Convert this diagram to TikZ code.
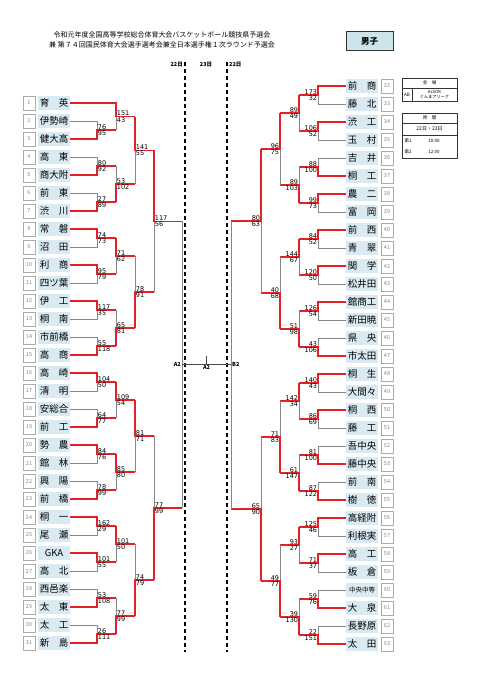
\documentclass[tikz,border=0pt]{standalone}
\usepackage{fontspec}
\setmainfont{Noto Sans CJK JP}
\newfontfamily\scorefont{DejaVu Sans}
\usepackage{tikz}
\usetikzlibrary{calc,positioning}
\definecolor{teamblue}{RGB}{218,234,243}
\definecolor{winred}{RGB}{228,32,40}
\definecolor{linegray}{RGB}{135,135,135}
\definecolor{titleblue}{RGB}{206,228,236}
\tikzset{
namebox/.style={fill=teamblue,minimum width=32pt,minimum height=14.5pt,inner sep=0pt,font=\fontsize{9.5}{10}\selectfont},
numbox/.style={draw=linegray!70,fill=white,minimum width=12pt,minimum height=14pt,inner sep=0pt,text=linegray,font=\fontsize{5.5}{6}\selectfont},
win/.style={draw=winred,line width=1.1pt},
lose/.style={draw=linegray,line width=0.7pt},
score/.style={inner sep=0.7pt,font=\scorefont\fontsize{6.5}{7}\selectfont},
scup/.style={above right,score},
scdown/.style={below right,score},
dayline/.style={line width=1.2pt,dash pattern=on 4pt off 3pt},
small/.style={font=\fontsize{5.5}{6}\selectfont\bfseries,inner sep=1pt},
info/.style={font=\fontsize{4.5}{5}\selectfont,inner sep=0.5pt}
}
% one game: top, bottom, name, column, next column, scores, winner (1 top / 2 bottom)
\newcommand\addgame[8]{
\coordinate (#3m) at ($(#1)!.5!(#2)$);
\coordinate (#3j) at (#3m -| #4);
\coordinate (#3) at (#3m -| #5);
\ifnum#8=1
\draw[lose] (#2) -| (#3j);
\draw[win] (#1) -| (#3j) -- (#3);
\else
\draw[lose] (#1) -| (#3j);
\draw[win] (#2) -| (#3j) -- (#3);
\fi
\node[scup] (#3s) at (#3j) {#6};
\node[scdown] (#3t) at (#3j) {#7};}

\begin{document}
\begin{tikzpicture}[x=1pt,y=-1pt]
\useasboundingbox (0,0) rectangle (481,680);
\node[font=\fontsize{7}{8}\selectfont,inner sep=0pt] (title1) at (162,35) {令和元年度全国高等学校総合体育大会バスケットボール競技県予選会};
\node[font=\fontsize{7}{8}\selectfont,inner sep=0pt] (title2) at (162,45) {兼 第７４回国民体育大会選手選考会兼全日本選手権１次ラウンド予選会};
\node[draw=black!80,fill=titleblue,minimum width=47pt,minimum height=19pt,font=\fontsize{8.5}{9}\selectfont\bfseries] (sex) at (369.5,41) {男子};

% columns
\coordinate (lr1) at (97,0);
\coordinate (lr2) at (116,0);
\coordinate (lr3) at (135,0);
\coordinate (lr4) at (154,0);
\coordinate (lfin) at (182,0);
\coordinate (rr1) at (318,0);
\coordinate (rr2) at (299,0);
\coordinate (rr3) at (280,0);
\coordinate (rr4) at (261,0);
\coordinate (rfin) at (231,0);

% days
\draw[dayline] (185,62) -- (185,652);
\draw[dayline] (227,62) -- (227,652);
\node[small,left] (day1) at (184,65) {22日};
\node[small] (day2) at (206,65) {23日};
\node[small,right] (day3) at (228,65) {22日};

% teams
\foreach \t [count=\i] in {育　英,伊勢崎,健大高,高　東,商大附,前　東,渋　川,常　磐,沼　田,利　商,四ツ葉,伊　工,桐　南,市前橋,高　商,高　崎,清　明,安総合,前　工,勢　農,館　林,興　陽,前　橋,桐　一,尾　瀬,GKA,高　北,西邑楽,太　東,太　工,新　島}{
\node[numbox] (ln\i) at (29,{85+18*\i}) {\i};
\node[namebox] (l\i) at (54,{85+18*\i}) {\t};}
\foreach \t [count=\i from 32] in {前　商,藤　北,渋　工,玉　村,吉　井,桐　工,農　二,富　岡,前　西,青　翠,関　学,松井田,館商工,新田暁,県　央,市太田,桐　生,大間々,桐　西,藤　工,吾中央,藤中央,前　南,樹　徳,高経附,利根実,高　工,板　倉,{\fontsize{6.5}{7}\selectfont 中央中等},大　泉,長野原,太　田}{
\node[numbox] (rn\i) at (387,{18*\i-490}) {\i};
\node[namebox] (r\i) at (362,{18*\i-490}) {\t};}

% left half
\addgame{l2.east}{l3.east}{a1}{lr1}{lr2}{76}{95}{2}
\addgame{l4.east}{l5.east}{a2}{lr1}{lr2}{80}{92}{2}
\addgame{l6.east}{l7.east}{a3}{lr1}{lr2}{27}{89}{2}
\addgame{l8.east}{l9.east}{a4}{lr1}{lr2}{74}{73}{1}
\addgame{l10.east}{l11.east}{a5}{lr1}{lr2}{95}{79}{1}
\addgame{l12.east}{l13.east}{a6}{lr1}{lr2}{117}{35}{1}
\addgame{l14.east}{l15.east}{a7}{lr1}{lr2}{55}{118}{2}
\addgame{l16.east}{l17.east}{a8}{lr1}{lr2}{104}{50}{1}
\addgame{l18.east}{l19.east}{a9}{lr1}{lr2}{64}{77}{2}
\addgame{l20.east}{l21.east}{a10}{lr1}{lr2}{84}{76}{1}
\addgame{l22.east}{l23.east}{a11}{lr1}{lr2}{78}{99}{2}
\addgame{l24.east}{l25.east}{a12}{lr1}{lr2}{162}{29}{1}
\addgame{l26.east}{l27.east}{a13}{lr1}{lr2}{101}{55}{1}
\addgame{l28.east}{l29.east}{a14}{lr1}{lr2}{53}{108}{2}
\addgame{l30.east}{l31.east}{a15}{lr1}{lr2}{26}{111}{2}
\addgame{l1.east}{a1}{b1}{lr2}{lr3}{151}{43}{1}
\addgame{a2}{a3}{b2}{lr2}{lr3}{53}{102}{2}
\addgame{a4}{a5}{b3}{lr2}{lr3}{71}{62}{1}
\addgame{a6}{a7}{b4}{lr2}{lr3}{65}{81}{2}
\addgame{a8}{a9}{b5}{lr2}{lr3}{109}{54}{1}
\addgame{a10}{a11}{b6}{lr2}{lr3}{85}{80}{1}
\addgame{a12}{a13}{b7}{lr2}{lr3}{101}{50}{1}
\addgame{a14}{a15}{b8}{lr2}{lr3}{77}{99}{2}
\addgame{b1}{b2}{c1}{lr3}{lr4}{141}{55}{1}
\addgame{b3}{b4}{c2}{lr3}{lr4}{78}{91}{2}
\addgame{b5}{b6}{c3}{lr3}{lr4}{81}{71}{1}
\addgame{b7}{b8}{c4}{lr3}{lr4}{74}{79}{2}
\addgame{c1}{c2}{d1}{lr4}{lfin}{117}{56}{1}
\addgame{c3}{c4}{d2}{lr4}{lfin}{77}{99}{2}

% right half
\tikzset{scup/.style={above left,score},scdown/.style={below left,score}}
\addgame{r32.west}{r33.west}{e1}{rr1}{rr2}{173}{32}{1}
\addgame{r34.west}{r35.west}{e2}{rr1}{rr2}{106}{52}{1}
\addgame{r36.west}{r37.west}{e3}{rr1}{rr2}{88}{100}{2}
\addgame{r38.west}{r39.west}{e4}{rr1}{rr2}{99}{73}{1}
\addgame{r40.west}{r41.west}{e5}{rr1}{rr2}{84}{52}{1}
\addgame{r42.west}{r43.west}{e6}{rr1}{rr2}{120}{50}{1}
\addgame{r44.west}{r45.west}{e7}{rr1}{rr2}{126}{54}{1}
\addgame{r46.west}{r47.west}{e8}{rr1}{rr2}{43}{106}{2}
\addgame{r48.west}{r49.west}{e9}{rr1}{rr2}{140}{43}{1}
\addgame{r50.west}{r51.west}{e10}{rr1}{rr2}{86}{69}{1}
\addgame{r52.west}{r53.west}{e11}{rr1}{rr2}{81}{100}{2}
\addgame{r54.west}{r55.west}{e12}{rr1}{rr2}{87}{122}{2}
\addgame{r56.west}{r57.west}{e13}{rr1}{rr2}{125}{46}{1}
\addgame{r58.west}{r59.west}{e14}{rr1}{rr2}{71}{37}{1}
\addgame{r60.west}{r61.west}{e15}{rr1}{rr2}{59}{76}{2}
\addgame{r62.west}{r63.west}{e16}{rr1}{rr2}{22}{151}{2}
\addgame{e1}{e2}{f1}{rr2}{rr3}{89}{49}{1}
\addgame{e3}{e4}{f2}{rr2}{rr3}{89}{103}{2}
\addgame{e5}{e6}{f3}{rr2}{rr3}{144}{67}{1}
\addgame{e7}{e8}{f4}{rr2}{rr3}{51}{98}{2}
\addgame{e9}{e10}{f5}{rr2}{rr3}{142}{34}{1}
\addgame{e11}{e12}{f6}{rr2}{rr3}{61}{147}{2}
\addgame{e13}{e14}{f7}{rr2}{rr3}{93}{27}{1}
\addgame{e15}{e16}{f8}{rr2}{rr3}{39}{130}{2}
\addgame{f1}{f2}{h1}{rr3}{rr4}{96}{75}{1}
\addgame{f3}{f4}{h2}{rr3}{rr4}{40}{68}{2}
\addgame{f5}{f6}{h3}{rr3}{rr4}{71}{83}{2}
\addgame{f7}{f8}{h4}{rr3}{rr4}{49}{77}{2}
\addgame{h1}{h2}{k1}{rr4}{rfin}{80}{63}{1}
\addgame{h3}{h4}{k2}{rr4}{rfin}{65}{90}{2}

% final
\draw[lose] (d1) -- (d2);
\draw[lose] (k1) -- (k2);
\coordinate (cl) at ($(d1)!.5!(d2)$);
\coordinate (cr) at (cl -| rfin);
\coordinate (ct) at ($(cl)!.5!(cr)$);
\draw[lose,draw=black!70] (cl) -- (cr);
\draw[lose,draw=black!70] (ct) -- ++(0,-9);
\node[small,left] (fa) at (cl) {A2};
\node[small,below] (fm) at (ct) {A2};
\node[small,right] (fb) at (cr) {B2};

% info boxes
\draw[black!80,line width=0.8pt] (402,78) rectangle (457,101);
\draw[black!80,line width=0.5pt] (402,88) -- (457,88) (412,88) -- (412,101);
\node[info] (hall) at (429.5,83) {会　場};
\node[info] (hallab) at (407,94.5) {AB};
\node[info,align=center,font=\fontsize{4.2}{4.6}\selectfont] (hallname) at (434.5,94.5) {ALSOK\\ぐんまアリーナ};
\draw[black!80,line width=0.8pt] (402,113) rectangle (457,158);
\draw[black!80,line width=0.5pt] (402,123) -- (457,123) (402,135) -- (457,135);
\node[info] (time) at (429.5,118) {時　間};
\node[info,font=\fontsize{5}{6}\selectfont] (days) at (429.5,129) {22日・23日};
\node[info] (slot1) at (408,141) {第1};
\node[info] (time1) at (434,141) {10:00};
\node[info] (slot2) at (408,152) {第2};
\node[info] (time2) at (434,152) {12:00};
\end{tikzpicture}
\end{document}
